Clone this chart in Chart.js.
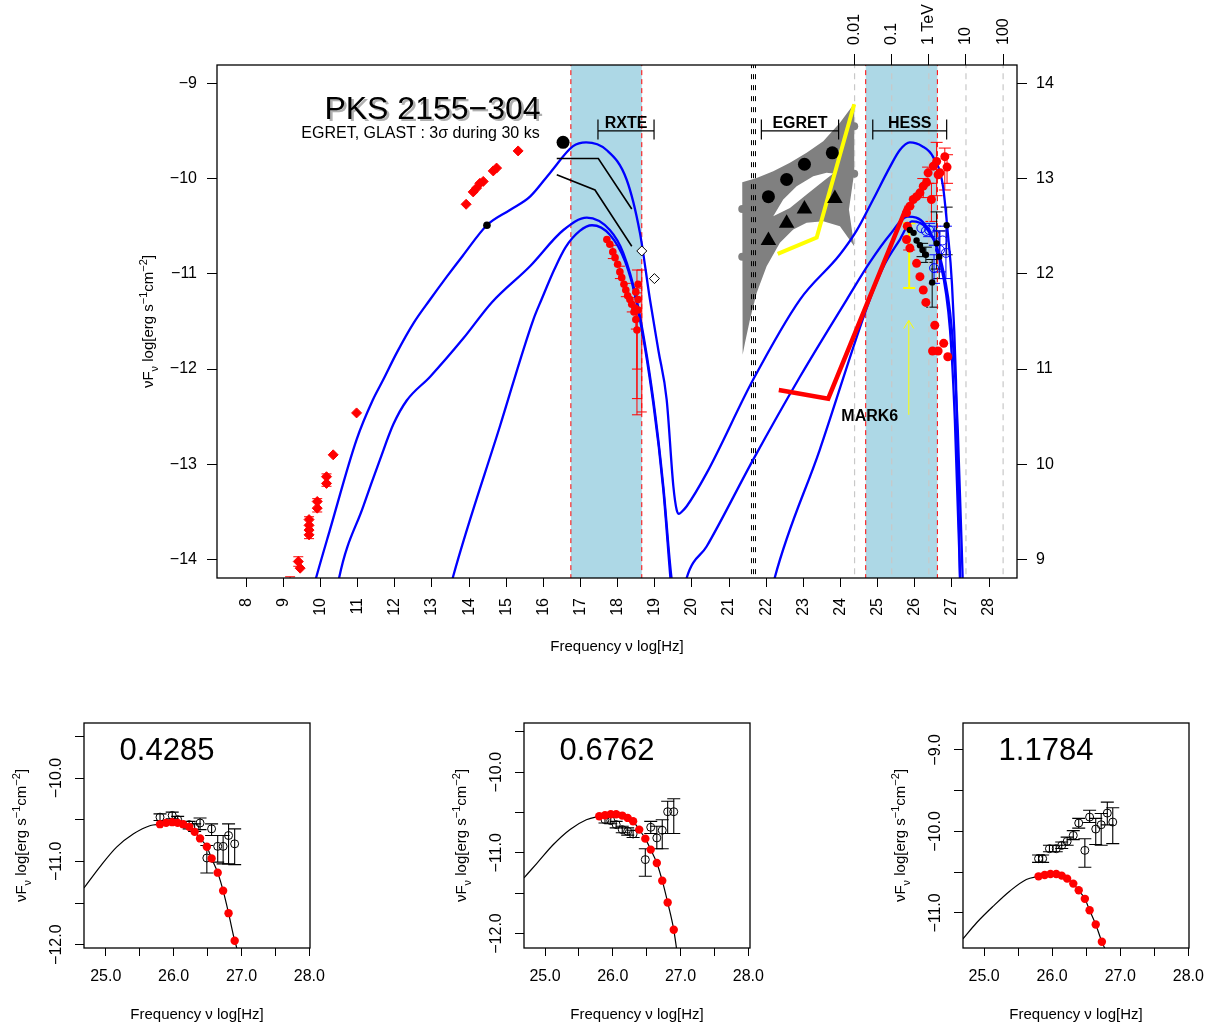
<!DOCTYPE html>
<html><head><meta charset="utf-8">
<script src="https://cdn.jsdelivr.net/npm/chart.js@4/dist/chart.umd.min.js"></script>
<style>
html,body{margin:0;padding:0;background:#fff;width:1227px;height:1028px;overflow:hidden;position:relative}
canvas{position:absolute}
</style></head><body>
<canvas id="main" style="left:0;top:0" width="1227" height="670"></canvas>
<canvas id="s1" style="left:0;top:690px" width="400" height="338"></canvas>
<canvas id="s2" style="left:410px;top:690px" width="400" height="338"></canvas>
<canvas id="s3" style="left:820px;top:690px" width="407" height="338"></canvas>
<script>
// ---------------- DATA (main SED) ----------------
const xTicks = [8,9,10,11,12,13,14,15,16,17,18,19,20,21,22,23,24,25,26,27,28];
const yTicks = [-14,-13,-12,-11,-10,-9];
const yRightTicks = [9,10,11,12,13,14];
const energyTicks = [24.38,25.38,26.38,27.38,28.38];
const energyLabels = ['0.01','0.1','1 TeV','10','100'];
const bands = [[16.74,18.65],[24.68,26.61]];
const redDashLines = [16.74,18.65,24.68,26.61];
const grayDashLines = [24.38,25.38,26.38,27.38,28.38];
const blackDashLines = [21.604,21.658,21.712];

const curveHigh = [[9.5,-14.75],[9.88,-14.19],[10.25,-13.69],[10.97,-12.74],[11.4,-12.33],[11.69,-12.11],[12.05,-11.83],[12.5,-11.52],[12.95,-11.27],[13.4,-11.03],[13.83,-10.81],[14.48,-10.49],[15.1,-10.33],[15.64,-10.19],[16.2,-9.93],[16.8,-9.66],[17.15,-9.62],[17.7,-9.7],[18.24,-10.01],[18.6,-10.57],[18.87,-11.27],[19.1,-11.81],[19.32,-12.32],[19.5,-13.23],[19.59,-13.48],[19.65,-13.52],[19.72,-13.5],[19.86,-13.44],[20.4,-13.09],[21.65,-12.11],[22.91,-11.27],[23.98,-10.8],[24.43,-10.55],[24.88,-10.22],[25.33,-9.88],[25.6,-9.7],[25.87,-9.62],[26.2,-9.66],[26.49,-9.77],[26.76,-10.08],[26.89,-10.57],[27.0,-11.09],[27.11,-12.11],[27.22,-14.19],[27.28,-15]];
const curveMid = [[10.3,-14.7],[10.5,-14.19],[11.15,-13.44],[11.6,-12.95],[11.96,-12.58],[12.32,-12.33],[12.95,-12.08],[13.84,-11.68],[14.61,-11.3],[15.64,-10.92],[16.54,-10.54],[17.17,-10.41],[17.79,-10.54],[18.15,-10.78],[18.51,-11.27],[18.96,-12.32],[19.23,-13.23],[19.45,-14.19],[19.65,-14.6],[19.86,-14.19],[20.4,-13.86],[21.65,-12.95],[22.91,-12.08],[24.17,-11.27],[24.79,-10.88],[25.33,-10.59],[25.81,-10.4],[26.27,-10.48],[26.67,-10.85],[26.95,-11.59],[27.08,-12.53],[27.22,-14.19],[27.28,-15]];
const curveLow = [[13.3,-14.6],[13.56,-14.19],[14.83,-12.6],[15.73,-11.48],[15.95,-11.27],[16.3,-10.95],[16.6,-10.72],[16.98,-10.55],[17.31,-10.49],[17.79,-10.59],[18.2,-10.87],[18.51,-11.3],[18.96,-12.36],[19.23,-13.27],[19.42,-14.19],[19.6,-15.0],[21.0,-15.8],[22.0,-14.6],[22.23,-14.19],[23.44,-12.85],[24.79,-11.27],[25.19,-10.9],[25.6,-10.64],[25.92,-10.45],[26.35,-10.54],[26.73,-10.9],[27.0,-11.59],[27.16,-12.64],[27.29,-14.19],[27.35,-15]];

const radioOptical = [[9.40,-14.02],[9.45,-14.09],[9.69,-13.58],[9.69,-13.64],[9.69,-13.69],[9.69,-13.74],[9.91,-13.39],[9.91,-13.46],[10.16,-13.13],[10.16,-13.20],[10.34,-12.90],[10.97,-12.46],[13.92,-10.27],[14.11,-10.14],[14.2,-10.10],[14.29,-10.05],[14.38,-10.03],[14.65,-9.92],[14.74,-9.89],[15.32,-9.71]];
const radioErr = [[9.40,-13.97,-14.07],[9.69,-13.55,-13.78],[9.91,-13.36,-13.50],[10.16,-13.10,-13.23],[9.18,-14.18,-14.35]];
const xrayRed = [[17.71,-10.64],[17.79,-10.69],[17.87,-10.77],[17.93,-10.83],[18.0,-10.90],[18.06,-10.98],[18.11,-11.04],[18.17,-11.11],[18.22,-11.17],[18.27,-11.23],[18.33,-11.27],[18.38,-11.32],[18.44,-11.40],[18.49,-11.48],[18.52,-11.59],[18.55,-11.11],[18.49,-11.19],[18.55,-11.27],[18.47,-11.36],[18.55,-11.38]];
const xrayErr = [[17.87,-10.70,-10.84],[18.06,-10.92,-11.05],[18.22,-11.10,-11.24],[18.38,-11.25,-11.40],[18.52,-10.96,-12.48],[18.52,-11.15,-12.00],[18.52,-11.2,-12.31],[18.49,-11.40,-11.58],[18.65,-10.96,-12.45]];
const blackBig = [[16.53,-9.62]];
const blackSmall = [[14.48,-10.49]];
const openDiamonds = [[18.65,-10.76],[18.99,-11.05]];
const xrayLine1 = [[16.36,-9.79],[17.48,-9.79],[18.38,-10.32]];
const xrayLine2 = [[16.36,-9.96],[17.39,-10.12],[18.38,-10.71]];
const egretBand = [[21.355,-10.039],[21.743,-9.993],[22.19,-9.923],[22.64,-9.835],[23.089,-9.73],[23.536,-9.608],[23.986,-9.415],[24.371,-9.212],[24.371,-9.937],[24.228,-10.326],[24.371,-10.711],[23.986,-10.501],[23.536,-10.449],[23.089,-10.465],[22.728,-10.536],[22.37,-10.675],[22.012,-10.921],[21.743,-11.201],[21.562,-11.481],[21.428,-11.726],[21.366,-11.849]];
const egretHole = [[22.19,-10.396],[22.459,-10.221],[22.82,-10.081],[23.267,-9.976],[23.627,-9.94],[23.805,-9.947],[23.536,-10.028],[23.089,-10.168],[22.64,-10.308]];
const egretEdgeDots = [[21.355,-10.32],[21.355,-10.82],[24.37,-9.45],[24.37,-9.95]];
const egretCircles = [[22.06,-10.19],[22.55,-10.01],[23.03,-9.85],[23.78,-9.73]];
const egretTriangles = [[22.06,-10.65],[22.55,-10.47],[23.03,-10.32],[23.85,-10.21]];
const glastLine = [[22.31,-10.79],[23.36,-10.62],[24.37,-9.22]];
const mark6Line = [[22.34,-12.22],[23.67,-12.31],[25.79,-10.29]];
const hessRedHigh = [[25.78,-10.36],[25.87,-10.29],[25.96,-10.22],[26.05,-10.19],[26.14,-10.15],[26.23,-10.08],[26.32,-10.04],[26.36,-9.94],[26.50,-9.87],[26.59,-9.82],[26.68,-9.94],[26.81,-9.77],[26.87,-9.88],[26.45,-10.22],[26.63,-9.96]];
const hessRedLow = [[25.80,-10.50],[25.78,-10.64],[25.87,-10.73],[26.05,-10.89],[26.14,-11.03],[26.23,-11.17],[26.30,-11.30],[26.54,-11.54],[26.48,-11.81],[26.63,-11.81],[26.78,-11.73],[26.89,-11.87]];
const hessRedErr = [[26.45,-10.05,-10.45],[26.59,-9.62,-10.18],[26.81,-9.68,-10.12],[26.87,-9.75,-10.05],[25.85,-10.47,-10.75],[26.23,-10.0,-10.2],[26.36,-9.88,-10.05]];
const hessBlack = [[25.87,-10.54],[25.97,-10.57],[26.05,-10.65],[26.14,-10.70],[26.21,-10.75],[26.30,-10.80],[26.47,-11.09],[26.59,-10.68],[26.66,-10.82],[26.86,-10.49]];
const hessBlackErr = [[26.47,-10.85,-11.35],[26.59,-10.35,-10.95],[26.66,-10.55,-11.05],[26.86,-10.3,-10.8],[26.30,-10.72,-10.88],[26.21,-10.68,-10.82]];
const hessBlue = [[26.18,-10.52],[26.39,-10.54],[26.54,-10.59],[26.68,-10.75],[26.84,-10.78],[26.52,-10.94],[26.30,-10.55],[26.75,-10.65]];
const hessBlueErr = [[26.52,-10.8,-11.1],[26.68,-10.55,-10.98],[26.84,-10.5,-11.05],[26.39,-10.47,-10.61],[26.54,-10.5,-10.7]];
const glastErr = [[25.85,-10.47,-11.15]];

// ---------------- DATA (small panels) ----------------
const smallXTicks = [25,25.5,26,26.5,27,27.5,28];
const s1YTicks = [-12,-11.5,-11,-10.5,-10,-9.5];
const s2YTicks = [-12,-11.5,-11,-10.5,-10,-9.5];
const s3YTicks = [-11,-10.5,-10,-9.5,-9];
const s1Label = '0.4285', s2Label = '0.6762', s3Label = '1.1784';

const s1Red = [[25.80,-10.554],[25.89,-10.538],[25.98,-10.53],[26.06,-10.538],[26.14,-10.554],[26.23,-10.586],[26.31,-10.646],[26.39,-10.725],[26.49,-10.825],[26.56,-10.965],[26.65,-11.136],[26.73,-11.352],[26.81,-11.622],[26.90,-11.953]];
const s1Curve = [[24.68,-11.32],[24.92,-11.06],[25.16,-10.83],[25.41,-10.67],[25.66,-10.57],[25.80,-10.554],[25.89,-10.538],[25.98,-10.53],[26.06,-10.538],[26.14,-10.554],[26.23,-10.586],[26.31,-10.646],[26.39,-10.725],[26.49,-10.825],[26.56,-10.965],[26.65,-11.136],[26.73,-11.352],[26.81,-11.622],[26.90,-11.953],[26.93,-12.04],[26.95,-12.15]];
const s1Black = [[25.80,-10.47],[25.98,-10.45],[26.06,-10.50],[26.23,-10.56],[26.31,-10.59],[26.39,-10.54],[26.49,-10.96],[26.56,-10.61],[26.65,-10.82],[26.73,-10.82],[26.81,-10.69],[26.90,-10.79]];
const s1Err = [[25.80,-10.43,-10.51],[25.98,-10.41,-10.49],[26.06,-10.46,-10.54],[26.23,-10.52,-10.61],[26.31,-10.55,-10.64],[26.39,-10.48,-10.62],[26.49,-10.81,-11.14],[26.56,-10.55,-10.69],[26.65,-10.69,-11.01],[26.73,-10.69,-11.03],[26.81,-10.55,-11.03],[26.90,-10.61,-11.04]];

const s2Red = [[25.80,-10.547],[25.885,-10.534],[25.97,-10.522],[26.05,-10.522],[26.14,-10.538],[26.22,-10.567],[26.30,-10.608],[26.39,-10.712],[26.48,-10.824],[26.56,-10.96],[26.65,-11.126],[26.73,-11.345],[26.81,-11.615],[26.90,-11.954]];
const s2Curve = [[24.69,-11.31],[24.88,-11.13],[25.12,-10.90],[25.37,-10.71],[25.61,-10.59],[25.80,-10.547],[25.885,-10.534],[25.97,-10.522],[26.05,-10.522],[26.14,-10.538],[26.22,-10.567],[26.30,-10.608],[26.39,-10.712],[26.48,-10.824],[26.56,-10.96],[26.65,-11.126],[26.73,-11.345],[26.81,-11.615],[26.90,-11.954],[26.94,-12.18],[26.96,-12.3]];
const s2Black = [[25.885,-10.588],[25.97,-10.60],[26.05,-10.65],[26.14,-10.712],[26.22,-10.733],[26.30,-10.766],[26.48,-11.084],[26.56,-10.683],[26.65,-10.815],[26.73,-10.72],[26.81,-10.49],[26.90,-10.49]];
const s2Err = [[25.885,-10.55,-10.63],[25.97,-10.56,-10.64],[26.05,-10.61,-10.69],[26.14,-10.67,-10.75],[26.22,-10.69,-10.78],[26.30,-10.72,-10.81],[26.48,-10.95,-11.29],[26.56,-10.61,-10.76],[26.65,-10.67,-10.95],[26.73,-10.59,-10.95],[26.81,-10.36,-10.76],[26.90,-10.33,-10.76]];

const s3Red = [[25.80,-10.551],[25.89,-10.534],[25.975,-10.522],[26.06,-10.522],[26.14,-10.542],[26.22,-10.579],[26.31,-10.64],[26.39,-10.722],[26.48,-10.827],[26.55,-10.967],[26.64,-11.142],[26.73,-11.354]];
const s3Curve = [[24.69,-11.317],[24.89,-11.12],[25.13,-10.92],[25.38,-10.73],[25.62,-10.59],[25.80,-10.551],[25.89,-10.534],[25.975,-10.522],[26.06,-10.522],[26.14,-10.542],[26.22,-10.579],[26.31,-10.64],[26.39,-10.722],[26.48,-10.827],[26.55,-10.967],[26.64,-11.142],[26.73,-11.354],[26.77,-11.43],[26.8,-11.5]];
const s3Black = [[25.80,-10.334],[25.86,-10.334],[25.96,-10.212],[26.06,-10.212],[26.14,-10.171],[26.22,-10.122],[26.31,-10.049],[26.39,-9.897],[26.48,-10.232],[26.55,-9.824],[26.64,-9.971],[26.72,-9.918],[26.81,-9.775],[26.89,-9.885]];
const s3Err = [[25.80,-10.29,-10.38],[25.86,-10.29,-10.38],[25.96,-10.17,-10.25],[26.06,-10.17,-10.25],[26.14,-10.13,-10.21],[26.22,-10.07,-10.17],[26.31,-9.99,-10.10],[26.39,-9.84,-9.96],[26.48,-10.09,-10.44],[26.55,-9.74,-9.89],[26.64,-9.84,-10.16],[26.72,-9.78,-10.17],[26.81,-9.64,-9.92],[26.89,-9.71,-10.15]];

// ---------------- helpers ----------------
const FONT = "'Liberation Sans', Arial, Helvetica, sans-serif";
Chart.defaults.font.family = FONT;
const xy = arr => arr.map(p => ({x: p[0], y: p[1]}));
const fixedTicks = vals => s => { s.ticks = vals.map(v => ({value: v})); };
const minus = v => (v < 0 ? '\u2212' : '') + Math.abs(v);

function drawRich(ctx, parts, x, y, size, rot) {
  const small = Math.round(size * 0.72);
  const widths = parts.map(p => { ctx.font = (p[1] ? small : size) + 'px ' + FONT; return ctx.measureText(p[0]).width; });
  const total = widths.reduce((a, b) => a + b, 0);
  ctx.save(); ctx.translate(x, y); ctx.rotate(rot);
  ctx.fillStyle = '#000'; ctx.textAlign = 'left'; ctx.textBaseline = 'alphabetic';
  let cx = -total / 2;
  parts.forEach((p, i) => {
    ctx.font = (p[1] ? small : size) + 'px ' + FONT;
    const dy = p[1] === 1 ? size * 0.28 : (p[1] === 2 ? -size * 0.42 : 0);
    ctx.fillText(p[0], cx, size * 0.36 + dy);
    cx += widths[i];
  });
  ctx.restore();
}
const yTitleParts = [['\u03BDF',0],['\u03BD',1],[' log[erg s',0],['\u22121',2],['cm',0],['\u22122',2],[']',0]];

const clipArea = (ctx, a) => { ctx.beginPath(); ctx.rect(a.left, a.top, a.right - a.left, a.bottom - a.top); ctx.clip(); };

const bandsPlugin = {
  id: 'bands',
  beforeDatasetsDraw(chart, args, opts) {
    if (!opts.list) return;
    const {ctx, chartArea: a} = chart, xs = chart.scales.x;
    ctx.save(); clipArea(ctx, a);
    ctx.fillStyle = opts.color;
    opts.list.forEach(b => {
      const x1 = xs.getPixelForValue(b[0]), x2 = xs.getPixelForValue(b[1]);
      ctx.fillRect(x1, a.top, x2 - x1, a.bottom - a.top);
    });
    ctx.restore();
  }
};
const polyPlugin = {
  id: 'polys',
  beforeDatasetsDraw(chart, args, opts) {
    if (!opts.list) return;
    const {ctx, chartArea: a} = chart, xs = chart.scales.x, ys = chart.scales.y;
    ctx.save(); clipArea(ctx, a);
    opts.list.forEach(p => {
      ctx.beginPath();
      p.data.forEach((d, i) => {
        const px = xs.getPixelForValue(d[0]), py = ys.getPixelForValue(d[1]);
        if (i === 0) ctx.moveTo(px, py); else ctx.lineTo(px, py);
      });
      ctx.closePath(); ctx.fillStyle = p.color; ctx.fill();
    });
    ctx.restore();
  }
};
const errPlugin = {
  id: 'errbars',
  beforeDatasetsDraw(chart, args, opts) {
    if (!opts.sets) return;
    const {ctx, chartArea: a} = chart, xs = chart.scales.x, ys = chart.scales.y;
    ctx.save(); clipArea(ctx, a);
    opts.sets.forEach(s => {
      ctx.strokeStyle = s.color; ctx.lineWidth = s.width || 1;
      s.data.forEach(d => {
        const px = xs.getPixelForValue(d[0]), p1 = ys.getPixelForValue(d[1]), p2 = ys.getPixelForValue(d[2]);
        ctx.beginPath();
        ctx.moveTo(px, p1); ctx.lineTo(px, p2);
        ctx.moveTo(px - s.cap, p1); ctx.lineTo(px + s.cap, p1);
        ctx.moveTo(px - s.cap, p2); ctx.lineTo(px + s.cap, p2);
        ctx.stroke();
      });
    });
    ctx.restore();
  }
};
const boxPlugin = {
  id: 'box',
  afterDatasetsDraw(chart) {
    const {ctx, chartArea: a} = chart;
    ctx.save(); ctx.strokeStyle = '#000'; ctx.lineWidth = 1.3;
    ctx.strokeRect(a.left, a.top, a.right - a.left, a.bottom - a.top);
    ctx.restore();
  }
};

const tickFont = {family: FONT, size: 16};
const gridOpts = len => ({drawOnChartArea: false, drawTicks: true, tickLength: len, color: '#000', tickColor: '#000', lineWidth: 1, tickWidth: 1});

// ---------------- main chart ----------------
const X_MIN = 7.211, X_MAX = 28.754, Y_MIN = -14.193, Y_MAX = -8.808;
const vline = (v, color, dash, w) => ({type: 'line', data: [{x: v, y: -16}, {x: v, y: -8}], borderColor: color, borderDash: dash, borderWidth: w, pointRadius: 0, fill: false, order: 20});
const curveDs = arr => ({type: 'line', data: xy(arr), borderColor: '#0000FF', borderWidth: 2.3, pointRadius: 0, fill: false, cubicInterpolationMode: 'monotone', order: 8});
const lineDs = (arr, color, w) => ({type: 'line', data: xy(arr), borderColor: color, borderWidth: w, pointRadius: 0, fill: false, tension: 0, order: 6});
const ptsDs = (arr, style, r, bg, border, bw, order) => ({type: 'scatter', data: xy(arr), pointStyle: style, pointRadius: r, backgroundColor: bg, borderColor: border, borderWidth: bw, order: order});

const mainDatasets = [].concat(
  redDashLines.map(v => vline(v, '#FF0000', [5, 4], 1)),
  grayDashLines.map(v => vline(v, '#C8C8C8', [6, 5], 1.2)),
  blackDashLines.map(v => vline(v, '#000', [5, 6], 1)),
  [ptsDs(egretEdgeDots, 'circle', 4, '#808080', '#808080', 0, 19),
   curveDs(curveHigh), curveDs(curveMid), curveDs(curveLow),
   lineDs(xrayLine1, '#000', 1.6), lineDs(xrayLine2, '#000', 1.6),
   lineDs(glastLine, '#FFFF00', 4), lineDs(mark6Line, '#FF0000', 4.5),
   ptsDs(radioOptical, 'rectRot', 5, '#FF0000', '#FF0000', 1, 3),
   ptsDs(xrayRed, 'circle', 3.8, '#FF0000', '#FF0000', 0, 3),
   ptsDs(blackBig, 'circle', 6.5, '#000', '#000', 0, 2),
   ptsDs(blackSmall, 'circle', 3.8, '#000', '#000', 0, 2),
   ptsDs(openDiamonds, 'rectRot', 5, '#fff', '#000', 1, 2),
   ptsDs(egretCircles, 'circle', 6.5, '#000', '#000', 0, 2),
   ptsDs(egretTriangles, 'triangle', 9, '#000', '#000', 0, 2),
   ptsDs(hessRedHigh, 'circle', 4.5, '#FF0000', '#FF0000', 0, 3),
   ptsDs(hessRedLow, 'circle', 4.5, '#FF0000', '#FF0000', 0, 3),
   ptsDs(hessBlue, 'circle', 4.5, 'rgba(0,0,0,0)', '#0000FF', 1, 2),
   ptsDs(hessBlack, 'circle', 3.2, '#000', '#000', 0, 1)]
);

const mainText = {
  id: 'mainText',
  afterDraw(chart) {
    const {ctx, chartArea: a} = chart, xs = chart.scales.x, ys = chart.scales.y;
    ctx.save();
    ctx.textAlign = 'center'; ctx.textBaseline = 'alphabetic';
    ctx.font = '32px ' + FONT;
    ctx.fillStyle = '#B0B0B0'; ctx.fillText('PKS 2155\u2212304', 435, 121);
    ctx.fillStyle = '#000'; ctx.fillText('PKS 2155\u2212304', 432.5, 119);
    ctx.font = '16px ' + FONT;
    ctx.fillText('EGRET, GLAST : 3\u03C3 during 30 ks', 420.5, 138);
    const brackets = [['RXTE', 17.47, 18.98], ['EGRET', 21.87, 23.95], ['HESS', 24.87, 26.86]];
    ctx.strokeStyle = '#000'; ctx.lineWidth = 1.2;
    const by = ys.getPixelForValue(-9.5), bt = ys.getPixelForValue(-9.38), bb = ys.getPixelForValue(-9.59);
    brackets.forEach(b => {
      const x1 = xs.getPixelForValue(b[1]), x2 = xs.getPixelForValue(b[2]);
      ctx.beginPath();
      ctx.moveTo(x1, by); ctx.lineTo(x2, by);
      ctx.moveTo(x1, bt); ctx.lineTo(x1, bb);
      ctx.moveTo(x2, bt); ctx.lineTo(x2, bb);
      ctx.stroke();
      ctx.font = 'bold 16px ' + FONT; ctx.fillStyle = '#000';
      ctx.fillText(b[0], (x1 + x2) / 2, by - 3);
    });
    ctx.font = 'bold 16px ' + FONT;
    ctx.fillText('MARK6', xs.getPixelForValue(24.79), ys.getPixelForValue(-12.48) + 6);
    const ax = xs.getPixelForValue(25.84), ay1 = ys.getPixelForValue(-12.48), ay2 = ys.getPixelForValue(-11.49);
    ctx.strokeStyle = '#FFFF00'; ctx.lineWidth = 1;
    ctx.beginPath(); ctx.moveTo(ax, ay1); ctx.lineTo(ax, ay2);
    ctx.moveTo(ax - 5, ay2 + 8); ctx.lineTo(ax, ay2); ctx.lineTo(ax + 5, ay2 + 8); ctx.stroke();
    ctx.restore();
    ctx.save(); ctx.fillStyle = '#000'; ctx.font = '15px ' + FONT; ctx.textAlign = 'center'; ctx.textBaseline = 'middle';
    ctx.fillText('Frequency \u03BD log[Hz]', (a.left + a.right) / 2, 647);
    ctx.restore();
    drawRich(ctx, yTitleParts, 148, (a.top + a.bottom) / 2, 15, -Math.PI / 2);
  }
};

new Chart(document.getElementById('main'), {
  type: 'scatter',
  data: {datasets: mainDatasets},
  options: {
    responsive: false, animation: false, devicePixelRatio: 1,
    layout: {padding: 0},
    plugins: {
      legend: {display: false}, tooltip: {enabled: false},
      bands: {list: bands, color: '#ADD8E6'},
      polys: {list: [{data: egretBand, color: '#808080'}, {data: egretHole, color: '#FFFFFF'}]},
      errbars: {sets: [
        {data: radioErr, color: '#FF0000', cap: 5, width: 1},
        {data: xrayErr, color: '#FF0000', cap: 5, width: 1},
        {data: hessRedErr, color: '#FF0000', cap: 6, width: 1},
        {data: hessBlackErr, color: '#000', cap: 6, width: 1},
        {data: hessBlueErr, color: '#0000FF', cap: 6, width: 1},
        {data: glastErr, color: '#FFFF00', cap: 6, width: 2}
      ]}
    },
    scales: {
      x: {type: 'linear', position: 'bottom', min: X_MIN, max: X_MAX,
          afterBuildTicks: fixedTicks(xTicks), afterFit: s => { s.height = 92; },
          ticks: {autoSkip: false, minRotation: 90, maxRotation: 90, padding: 11, color: '#000', font: tickFont, callback: v => String(v)},
          grid: gridOpts(9), border: {display: false}},
      x2: {type: 'linear', position: 'top', min: X_MIN, max: X_MAX,
          afterBuildTicks: fixedTicks(energyTicks), afterFit: s => { s.height = 65; },
          ticks: {autoSkip: false, minRotation: 90, maxRotation: 90, padding: 9, labelOffset: 19.2, color: '#000', font: tickFont, callback: (v, i) => energyLabels[i]},
          grid: gridOpts(11), border: {display: false}},
      y: {type: 'linear', position: 'left', min: Y_MIN, max: Y_MAX,
          afterBuildTicks: fixedTicks(yTicks), afterFit: s => { s.width = 217; },
          ticks: {autoSkip: false, padding: 10, color: '#000', font: tickFont, callback: v => minus(v)},
          grid: gridOpts(10), border: {display: false}},
      y2: {type: 'linear', position: 'right', min: Y_MIN + 23, max: Y_MAX + 23,
          afterBuildTicks: fixedTicks(yRightTicks), afterFit: s => { s.width = 210; },
          ticks: {autoSkip: false, padding: 9, color: '#000', font: tickFont, callback: v => String(v)},
          grid: gridOpts(10), border: {display: false}}
    }
  },
  plugins: [bandsPlugin, polyPlugin, errPlugin, boxPlugin, mainText]
});

// ---------------- small panels ----------------
function smallChart(id, p) {
  const textPlugin = {
    id: 'smallText',
    afterDraw(chart) {
      const {ctx, chartArea: a} = chart, ys = chart.scales.y;
      ctx.save(); ctx.fillStyle = '#000';
      ctx.font = '31px ' + FONT; ctx.textAlign = 'center'; ctx.textBaseline = 'middle';
      ctx.fillText(p.label, a.left + 83, a.top + 28);
      ctx.font = '16px ' + FONT;
      p.yTicks.forEach(v => {
        if (Math.abs(v - Math.round(v)) > 1e-6) return;
        const py = ys.getPixelForValue(v);
        ctx.save(); ctx.translate(a.left - 27, py); ctx.rotate(-Math.PI / 2);
        ctx.fillText('\u2212' + Math.abs(v).toFixed(1), 0, 0); ctx.restore();
      });
      ctx.font = '15px ' + FONT;
      ctx.fillText('Frequency \u03BD log[Hz]', (a.left + a.right) / 2, 325);
      ctx.restore();
      drawRich(ctx, yTitleParts, a.left - 63, (a.top + a.bottom) / 2, 15, -Math.PI / 2);
    }
  };
  return new Chart(document.getElementById(id), {
    type: 'scatter',
    data: {datasets: [
      {type: 'line', data: xy(p.curve), borderColor: '#000', borderWidth: 1.2, pointRadius: 0, fill: false, cubicInterpolationMode: 'monotone', order: 3},
      {type: 'scatter', data: xy(p.black), pointStyle: 'circle', pointRadius: 4, backgroundColor: 'rgba(0,0,0,0)', borderColor: '#000', borderWidth: 1, order: 2},
      {type: 'scatter', data: xy(p.red), pointStyle: 'circle', pointRadius: 4.2, backgroundColor: '#FF0000', borderColor: '#FF0000', borderWidth: 0, order: 1}
    ]},
    options: {
      responsive: false, animation: false, devicePixelRatio: 1,
      layout: {padding: {top: 33, right: p.padRight, left: 0, bottom: 0}},
      plugins: {legend: {display: false}, tooltip: {enabled: false},
        errbars: {sets: [{data: p.err, color: '#000', cap: 6.5, width: 1.1}]}},
      scales: {
        x: {type: 'linear', position: 'bottom', min: p.xMin, max: p.xMax,
            afterBuildTicks: fixedTicks(smallXTicks), afterFit: s => { s.height = 80; },
            ticks: {autoSkip: false, maxRotation: 0, minRotation: 0, padding: 11, color: '#000', font: tickFont,
                    callback: v => Number.isInteger(v) ? v.toFixed(1) : ''},
            grid: gridOpts(8), border: {display: false}},
        y: {type: 'linear', position: 'left', min: p.yMin, max: p.yMax,
            afterBuildTicks: fixedTicks(p.yTicks), afterFit: s => { s.width = p.axisW; },
            ticks: {display: false},
            grid: gridOpts(9), border: {display: false}}
      }
    },
    plugins: [errPlugin, boxPlugin, textPlugin]
  });
}
smallChart('s1', {label: s1Label, curve: s1Curve, black: s1Black, red: s1Red, err: s1Err, yTicks: s1YTicks,
  xMin: 24.68, xMax: 28.01, yMin: -12.04, yMax: -9.34, axisW: 84, padRight: 90});
smallChart('s2', {label: s2Label, curve: s2Curve, black: s2Black, red: s2Red, err: s2Err, yTicks: s2YTicks,
  xMin: 24.69, xMax: 28.025, yMin: -12.18, yMax: -9.39, axisW: 114, padRight: 60});
smallChart('s3', {label: s3Label, curve: s3Curve, black: s3Black, red: s3Red, err: s3Err, yTicks: s3YTicks,
  xMin: 24.69, xMax: 28.01, yMin: -11.43, yMax: -8.67, axisW: 143, padRight: 38});
</script>
</body></html>
